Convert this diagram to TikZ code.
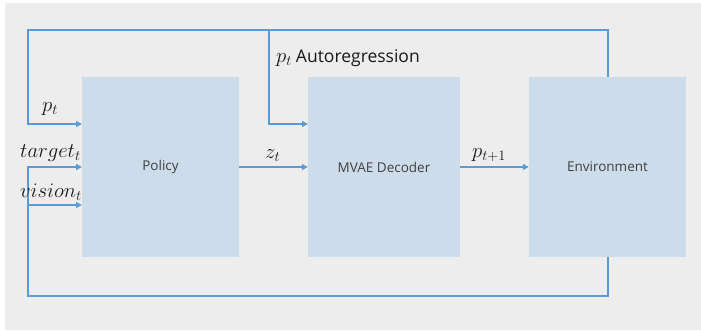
\documentclass[tikz,border=0pt]{standalone}
\usepackage{fontspec}
\setmainfont{Open Sans}
\usetikzlibrary{arrows.meta}
\definecolor{panel}{HTML}{EDEDED}
\definecolor{boxfill}{HTML}{CCDCEA}
\definecolor{flowblue}{HTML}{5B9BD5}
\definecolor{ink}{HTML}{404040}
\tikzset{
  blk/.style={fill=boxfill, draw=none, minimum width=157pt, minimum height=180pt,
    inner sep=0pt, text=ink, font=\fontsize{13.5}{15}\selectfont},
  flow/.style={draw=flowblue, line width=2pt},
  flowarrow/.style={flow, -{Triangle[length=6pt,width=6pt]}},
  mlabel/.style={inner sep=0pt, anchor=base west, text=black!90, font=\fontsize{20}{22}\selectfont},
}
\begin{document}
\begin{tikzpicture}[x=1pt,y=-1pt]
\useasboundingbox (0,0) rectangle (701,330);
\fill[white] (0,0) rectangle (701,330);
\fill[panel] (5,3) rectangle (701,330);

% processing blocks
\node[blk] (policy) at (160.5,167) {Policy};
\node[blk, minimum width=152pt] (mvae) at (384,167) {MVAE Decoder};
\node[blk] (env) at (607.5,167) {Environment};

% corners of the feedback loops
\coordinate (topright) at (607.5,30);
\coordinate (topleft) at (28,30);
\coordinate (branch) at (269,30);
\coordinate (botright) at (607.5,296);
\coordinate (botleft) at (28,296);
\coordinate (ptin) at (82,124);
\coordinate (mvin) at (308,124);
\coordinate (tgtin) at (82,167);
\coordinate (visin) at (82,205);

% autoregressive loop over the top
\draw[flowarrow] (env.north) -- (topright) -- (topleft) -- (topleft |- ptin) -- (ptin);
\draw[flowarrow] (branch) -- (branch |- mvin) -- (mvin);

% environment feedback loop underneath
\draw[flowarrow] (env.south) -- (botright) -- (botleft) -- (botleft |- tgtin) -- (tgtin);
\draw[flowarrow] (botleft |- visin) -- (visin);

% forward path
\draw[flowarrow] (policy.east) -- (mvae.west);
\draw[flowarrow] (mvae.east) -- (env.west);

% labels
\node[mlabel] (lpt) at (42,111) {$p_t$};
\node[mlabel] (ltarget) at (20,157) {$target_t$};
\node[mlabel] (lvision) at (20,197) {$vision_t$};
\node[mlabel] (lzt) at (265,158) {$z_t$};
\node[mlabel] (lpt1) at (472,157) {$p_{t+1}$};
\node[mlabel] (lauto) at (276,62) {$p_t$\hspace{4pt}\fontsize{17.5}{20}\selectfont Autoregression};
\end{tikzpicture}
\end{document}
